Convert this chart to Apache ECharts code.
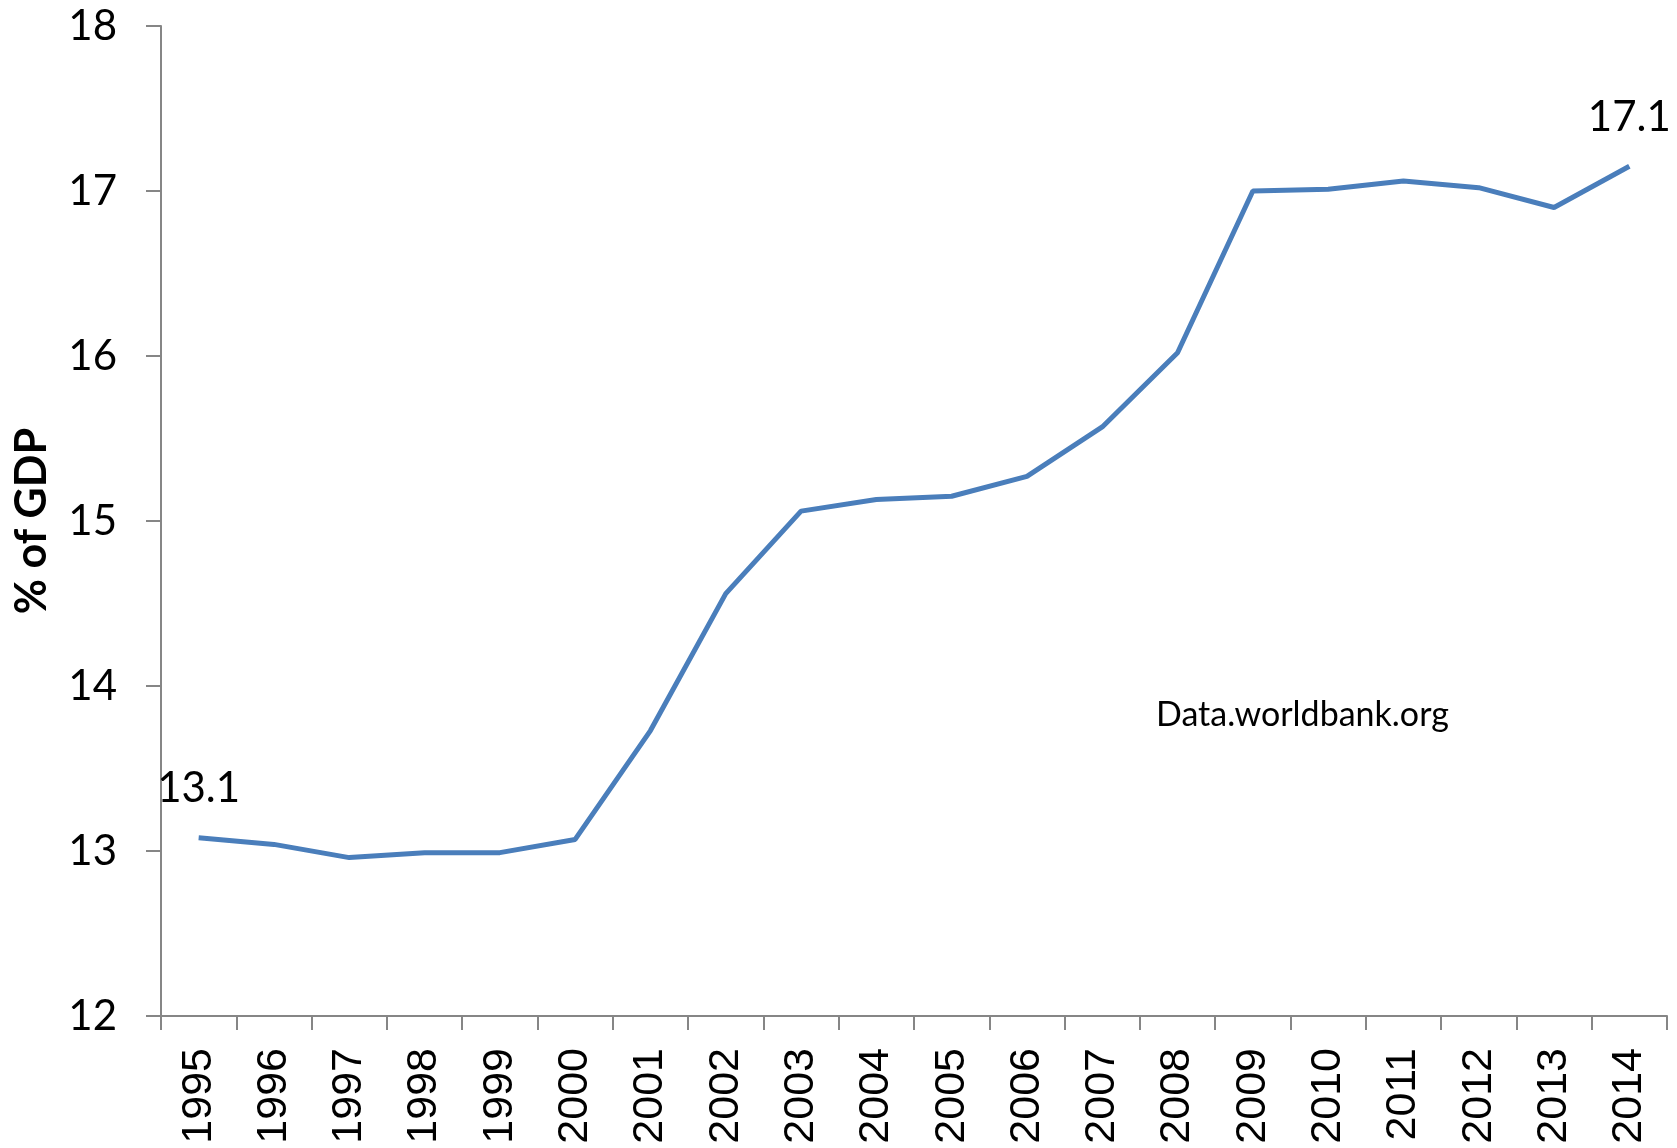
<!DOCTYPE html>
<html>
<head>
<meta charset="utf-8">
<script src="https://cdn.jsdelivr.net/npm/echarts@6/dist/echarts.min.js"></script>
<style>
html,body{margin:0;padding:0;background:#fff;}
#c{width:1677px;height:1148px;}
</style>
</head>
<body>
<div id="c"></div>
<script>
const years = ['1995','1996','1997','1998','1999','2000','2001','2002','2003','2004','2005','2006','2007','2008','2009','2010','2011','2012','2013','2014'];
const values = [13.08,13.04,12.96,12.99,12.99,13.07,13.73,14.56,15.06,15.13,15.15,15.27,15.57,16.02,17.00,17.01,17.06,17.02,16.90,17.15];
const labelledIdx = [0, 19];
const yAxisName = '% of GDP';
const sourceNote = 'Data.worldbank.org';

const chart = echarts.init(document.getElementById('c'));
const data = values.map((v, i) => labelledIdx.includes(i)
  ? {value: v, label: {show: true, position: 'top', distance: 28, formatter: (p) => p.value.toFixed(1),
      fontFamily: 'Lato', fontSize: 42, color: '#000'}}
  : v);

chart.setOption({
  animation: false,
  grid: {left: 161, top: 26, right: 10, bottom: 132},
  xAxis: {
    type: 'category',
    data: years,
    boundaryGap: true,
    axisLine: {lineStyle: {color: '#868686', width: 2}},
    axisTick: {show: true, length: 14, lineStyle: {color: '#868686', width: 2}},
    axisLabel: {rotate: 90, margin: 32, fontFamily: 'Liberation Sans', fontSize: 43, color: '#000'}
  },
  yAxis: {
    type: 'value',
    min: 12, max: 18, interval: 1,
    name: yAxisName,
    nameLocation: 'middle',
    nameGap: 107,
    nameTextStyle: {fontFamily: 'Lato', fontWeight: 'bold', fontSize: 43, color: '#000'},
    axisLine: {show: true, lineStyle: {color: '#868686', width: 2}},
    axisTick: {show: true, length: 15, lineStyle: {color: '#868686', width: 2}},
    splitLine: {show: false},
    axisLabel: {margin: 44, fontFamily: 'Lato', fontSize: 42, color: '#000'}
  },
  graphic: [{
    type: 'text',
    left: 1156, top: 698,
    style: {text: sourceNote, fontFamily: 'Lato', fontSize: 34, fill: '#000'}
  }],
  series: [{
    type: 'line',
    data: data,
    symbol: 'circle',
    symbolSize: 0,
    showSymbol: true,
    lineStyle: {color: '#4a7ebb', width: 5},
    itemStyle: {color: '#4a7ebb'}
  }]
});
</script>
</body>
</html>
